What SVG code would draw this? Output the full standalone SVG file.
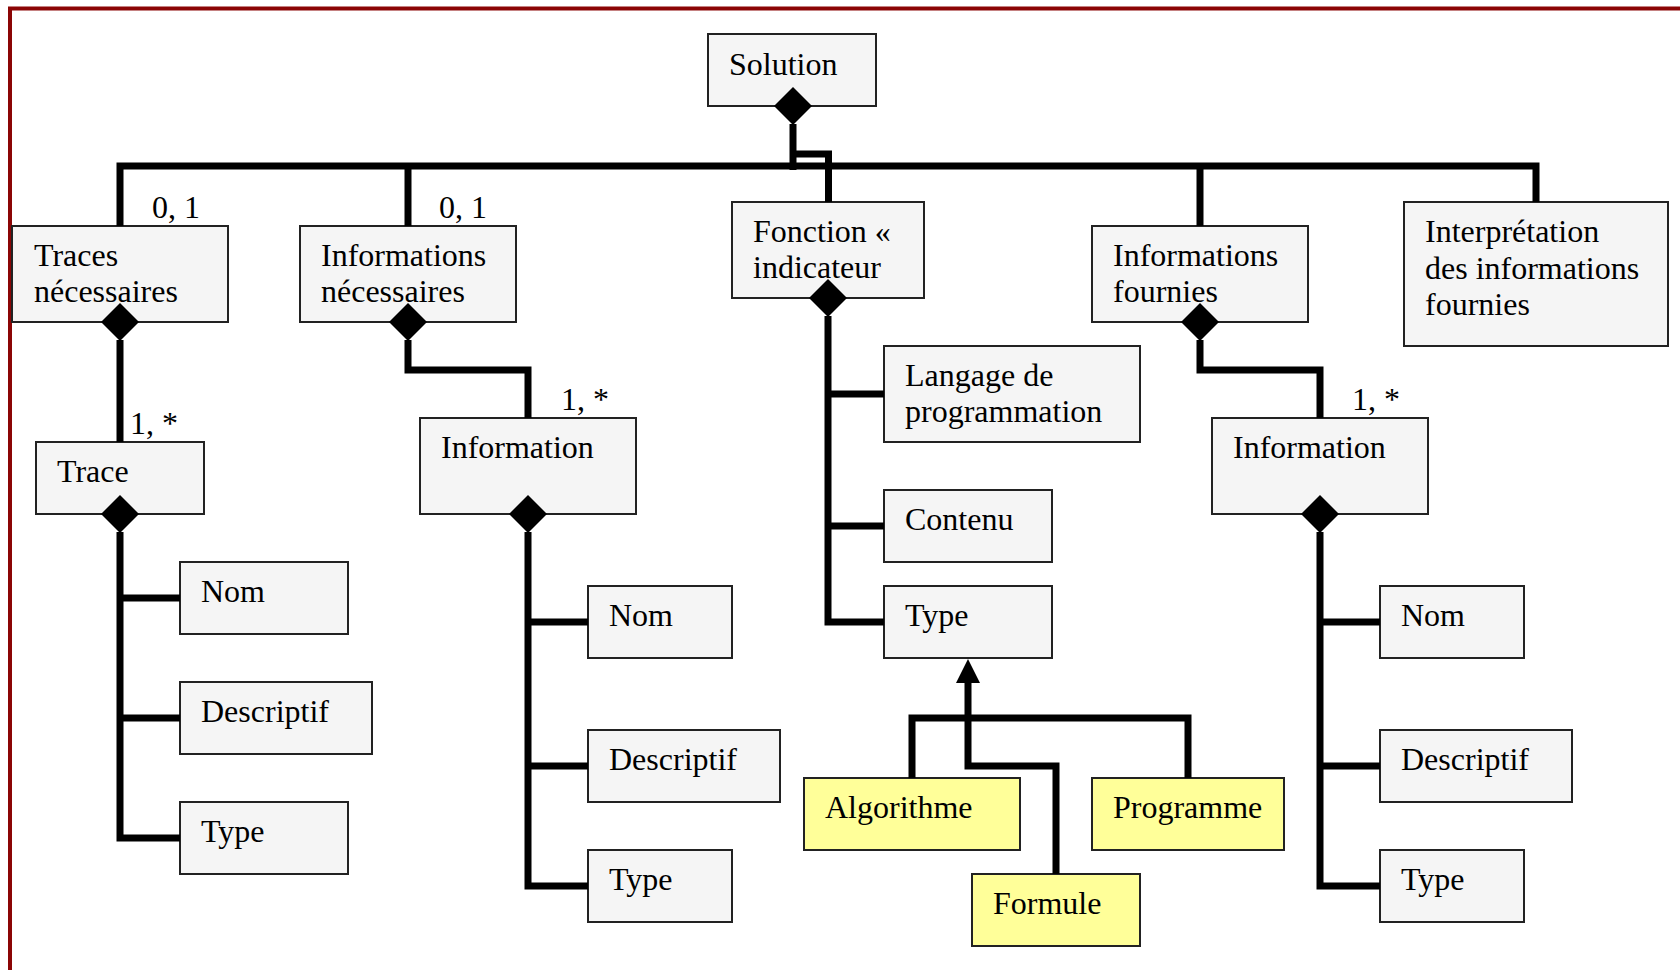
<svg xmlns="http://www.w3.org/2000/svg" width="1680" height="970" viewBox="0 0 1680 970">
<style>
.box{fill:#f5f5f5;stroke:#222;stroke-width:2}
.yel{fill:#ffff99;stroke:#222;stroke-width:2}
text{font-family:"Liberation Serif","Times New Roman",serif;font-size:32px;fill:#000}
.c{fill:none;stroke:#000;stroke-width:7;stroke-linejoin:miter;stroke-linecap:butt}
.d{fill:#000;stroke:none}
</style>
<rect x="0" y="0" width="1680" height="970" fill="#fff"/>
<rect x="10" y="8.5" width="1700" height="1000" fill="none" stroke="#8b0505" stroke-width="4"/>

<g id="solution"><rect class="box" x="708" y="34" width="168" height="72"/><text x="729" y="75">Solution</text></g>
<g id="traces-necessaires"><rect class="box" x="12" y="226" width="216" height="96"/><text x="34" y="266">Traces</text><text x="34" y="302">nécessaires</text></g>
<g id="informations-necessaires"><rect class="box" x="300" y="226" width="216" height="96"/><text x="321" y="266">Informations</text><text x="321" y="302">nécessaires</text></g>
<g id="fonction-indicateur"><rect class="box" x="732" y="202" width="192" height="96"/><text x="753" y="242">Fonction «</text><text x="753" y="278">indicateur</text></g>
<g id="informations-fournies"><rect class="box" x="1092" y="226" width="216" height="96"/><text x="1113" y="266">Informations</text><text x="1113" y="302">fournies</text></g>
<g id="interpretation"><rect class="box" x="1404" y="202" width="264" height="144"/><text x="1425" y="242">Interprétation</text><text x="1425" y="278.5">des informations</text><text x="1425" y="315">fournies</text></g>

<g id="trace"><rect class="box" x="36" y="442" width="168" height="72"/><text x="57" y="482">Trace</text></g>
<g id="trace-nom"><rect class="box" x="180" y="562" width="168" height="72"/><text x="201" y="602">Nom</text></g>
<g id="trace-descriptif"><rect class="box" x="180" y="682" width="192" height="72"/><text x="201" y="722">Descriptif</text></g>
<g id="trace-type"><rect class="box" x="180" y="802" width="168" height="72"/><text x="201" y="842">Type</text></g>

<g id="information-1"><rect class="box" x="420" y="418" width="216" height="96"/><text x="441" y="458">Information</text></g>
<g id="info1-nom"><rect class="box" x="588" y="586" width="144" height="72"/><text x="609" y="626">Nom</text></g>
<g id="info1-descriptif"><rect class="box" x="588" y="730" width="192" height="72"/><text x="609" y="770">Descriptif</text></g>
<g id="info1-type"><rect class="box" x="588" y="850" width="144" height="72"/><text x="609" y="890">Type</text></g>

<g id="langage"><rect class="box" x="884" y="346" width="256" height="96"/><text x="905" y="386">Langage de</text><text x="905" y="422">programmation</text></g>
<g id="contenu"><rect class="box" x="884" y="490" width="168" height="72"/><text x="905" y="530">Contenu</text></g>
<g id="fonction-type"><rect class="box" x="884" y="586" width="168" height="72"/><text x="905" y="626">Type</text></g>
<g id="algorithme"><rect class="yel" x="804" y="778" width="216" height="72"/><text x="825" y="818">Algorithme</text></g>
<g id="programme"><rect class="yel" x="1092" y="778" width="192" height="72"/><text x="1113" y="818">Programme</text></g>
<g id="formule"><rect class="yel" x="972" y="874" width="168" height="72"/><text x="993" y="914">Formule</text></g>

<g id="information-2"><rect class="box" x="1212" y="418" width="216" height="96"/><text x="1233" y="458">Information</text></g>
<g id="info2-nom"><rect class="box" x="1380" y="586" width="144" height="72"/><text x="1401" y="626">Nom</text></g>
<g id="info2-descriptif"><rect class="box" x="1380" y="730" width="192" height="72"/><text x="1401" y="770">Descriptif</text></g>
<g id="info2-type"><rect class="box" x="1380" y="850" width="144" height="72"/><text x="1401" y="890">Type</text></g>

<g id="connectors">
<path class="c" d="M793,124 V170"/>
<path class="c" d="M120,226 V166 H1536 V202"/>
<path class="c" d="M408,226 V166"/>
<path class="c" d="M1200,226 V166"/>
<path class="c" d="M828.5,202 V154 H793"/>
<path class="c" d="M120,340 V442"/>
<path class="c" d="M408,340 V370 H528 V418"/>
<path class="c" d="M1200,340 V370 H1320 V418"/>
<path class="c" d="M120,532 V838 H180 M120,598 H180 M120,718 H180"/>
<path class="c" d="M528,532 V886 H588 M528,622 H588 M528,766 H588"/>
<path class="c" d="M828,316 V622 H884 M828,394 H884 M828,526 H884"/>
<path class="c" d="M1320,532 V886 H1380 M1320,622 H1380 M1320,766 H1380"/>
<path class="c" d="M968,680 V766 H1056 V874"/>
<path class="c" d="M912,778 V718 H1188 V778"/>
<polygon class="d" points="968,659 956,683 980,683"/>
<polygon class="d" points="793,87 812,106 793,125 774,106"/>
<polygon class="d" points="120,303 139,322 120,341 101,322"/>
<polygon class="d" points="408,303 427,322 408,341 389,322"/>
<polygon class="d" points="828,279 847,298 828,317 809,298"/>
<polygon class="d" points="1200,303 1219,322 1200,341 1181,322"/>
<polygon class="d" points="120,495 139,514 120,533 101,514"/>
<polygon class="d" points="528,495 547,514 528,533 509,514"/>
<polygon class="d" points="1320,495 1339,514 1320,533 1301,514"/>
<text x="152" y="218">0, 1</text>
<text x="439" y="218">0, 1</text>
<text x="130" y="434">1, *</text>
<text x="561" y="410">1, *</text>
<text x="1352" y="410">1, *</text>
</g>
</svg>
